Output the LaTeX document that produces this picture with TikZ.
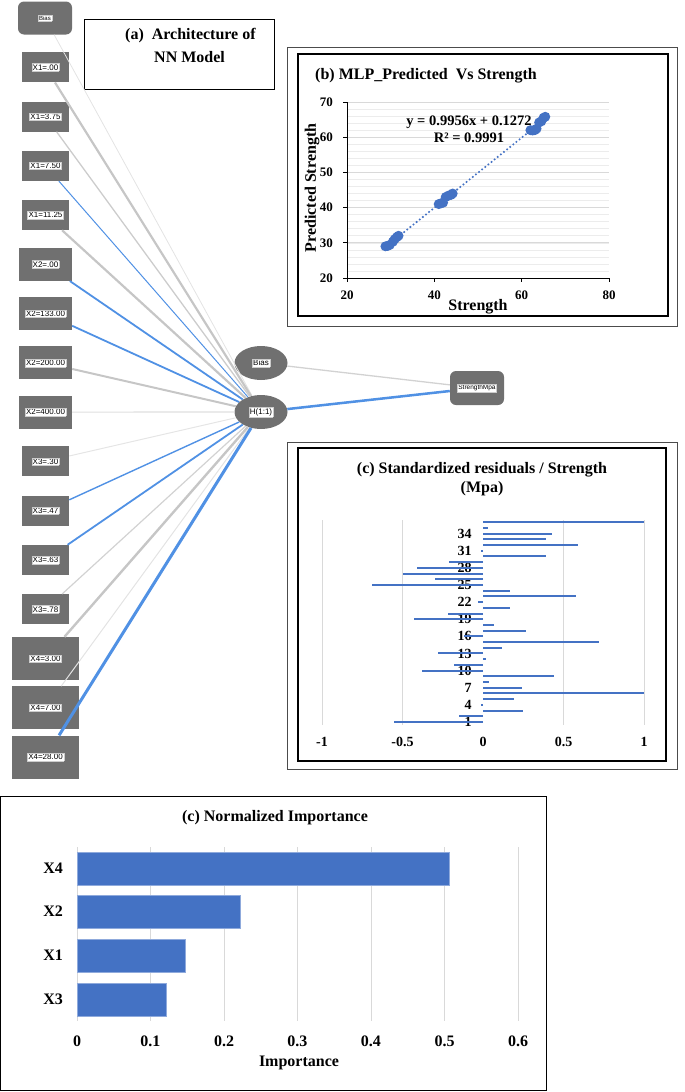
\documentclass[tikz,border=0pt]{standalone}
\usepackage{fontspec}
\setmainfont{Liberation Serif}
\newfontfamily\nnfont{Liberation Sans}
\usetikzlibrary{shapes.geometric}

\definecolor{nngray}{RGB}{112,112,112}
\definecolor{nnblue}{RGB}{80,145,228}
\definecolor{chartblue}{RGB}{68,114,196}
\definecolor{gridgray}{RGB}{217,217,217}
\definecolor{minorgray}{RGB}{236,236,236}

\newcommand{\nnlab}[2][8]{{\setlength{\fboxsep}{0.8pt}\setlength{\fboxrule}{0.3pt}\fcolorbox{gray!40}{white}{\nnfont\fontsize{#1}{#1}\selectfont #2}}}

\tikzset{
  inbox/.style={rectangle, fill=nngray, inner sep=0pt, minimum width=47pt, minimum height=30pt},
  x2box/.style={inbox, minimum width=53pt, minimum height=33pt},
  x4box/.style={inbox, minimum width=67pt, minimum height=43pt},
  biasbox/.style={inbox, rounded corners=6pt, minimum width=54pt, minimum height=33pt},
  hidnode/.style={ellipse, fill=nngray, inner sep=0pt, minimum width=53pt, minimum height=34pt},
  outbox/.style={biasbox, minimum width=54pt, minimum height=34pt},
  ttl/.style={font=\bfseries\fontsize{16}{18}\selectfont, inner sep=0pt},
  ticklab/.style={font=\bfseries\fontsize{14}{14}\selectfont, inner sep=0pt},
  smalllab/.style={font=\bfseries\fontsize{13}{13}\selectfont, inner sep=0pt},
  panelout/.style={draw=black!70, line width=1pt},
  panelin/.style={draw=black, line width=1.2pt},
  gridmaj/.style={draw=gridgray, line width=0.8pt},
  gridmin/.style={draw=minorgray, line width=0.6pt},
  resbar/.style={draw=chartblue, line width=2pt},
  impbar/.style={fill=chartblue, draw=chartblue!60!white, line width=0.6pt}
}

\begin{document}
\begin{tikzpicture}[x=1pt, y=-1pt]
		%%%%% START %%%%%
		\useasboundingbox (0,0) rectangle (685,1092);
		
		% (a) network
		\node[draw, line width=0.8pt, minimum width=190pt, minimum height=70pt, inner sep=0pt] (abox) at (179,54) {};
		\node[ttl, anchor=west] (atitle) at (125,36) {(a)\ \ Architecture of};
		\node[ttl, anchor=west] (atitleb) at (154,57) {NN Model};
		
		\node[biasbox] (inbias) at (45,18) {\nnlab[6]{Bias}};
		\foreach \nm/\lab/\sty [count=\i] in {x1a/X1=.00/inbox, x1b/X1=3.75/inbox, x1c/X1=7.50/inbox, x1d/X1=11.25/inbox,
			x2a/X2=.00/x2box, x2b/X2=133.00/x2box, x2c/X2=200.00/x2box, x2d/X2=400.00/x2box,
			x3a/X3=.30/inbox, x3b/X3=.47/inbox, x3c/X3=.63/inbox, x3d/X3=.78/inbox,
			x4a/X4=3.00/x4box, x4b/X4=7.00/x4box, x4c/X4=28.00/x4box}
			\node[\sty] (\nm) at (45.5,18+49.27*\i) {\nnlab{\lab}};
		
		\node[hidnode] (hbias) at (261,363) {\nnlab{Bias}};
		\node[hidnode] (hid) at (261,412) {\nnlab{H(1:1)}};
		\node[outbox] (out) at (477,388) {\nnlab[6.5]{StrengthMpa}};
		
		\foreach \nm/\col/\lw in {inbias/gray!22/0.8, x1a/gray!45/2.2, x1b/gray!40/1.3, x1c/nnblue/1.0, x1d/gray!45/2.2,
			x2a/nnblue/1.8, x2b/nnblue/1.8, x2c/gray!45/2.0, x2d/gray!25/1.2,
			x3a/gray!20/1.0, x3b/nnblue/1.4, x3c/nnblue/1.8, x3d/gray!35/1.2,
			x4a/gray!45/2.4, x4b/gray!22/1.0, x4c/nnblue/3.0}
			\draw[draw=\col, line width=\lw pt] (\nm) -- (hid);
		
		\draw[draw=gray!35, line width=1.3pt] (hbias) -- (out);
		\draw[draw=nnblue, line width=2.5pt] (hid) -- (out);
		
		% (b) predicted vs strength
		\draw[panelout] (287,47) rectangle (677,326);
		\draw[panelin] (298,54) rectangle (668,316);
		\node[ttl] (btitle) at (426,76) {(b) MLP\_Predicted\ \ Vs Strength};
		
		\begin{scope}[shift={(347pt,-278pt)}, x=4.367pt, y=3.52pt]
			\foreach \v in {2,4,...,48}
				\draw[gridmin] (0,\v) -- (60,\v);
			\foreach \v in {10,20,...,50}
				\draw[gridmaj] (0,\v) -- (60,\v);
			\draw[black, line width=0.8pt] (0,50) -- (0,0) -- (60,0);
			\foreach \v in {0,10,...,50}
				\draw[black, line width=0.8pt] (0,\v) -- ++(-4pt,0);
			\foreach \u in {0,20,40,60}
				\draw[black, line width=0.8pt] (\u,0) -- ++(0,-4pt);
			\foreach \v/\lab in {0/20,10/30,20/40,30/50,40/60,50/70}
				\node[smalllab, anchor=east] (yl\lab) at (-3.2,\v) {\lab};
			\foreach \u/\lab in {0/20,20/40,40/60,60/80}
				\node[smalllab] (xl\lab) at (\u,-4.8) {\lab};
			\draw[chartblue, line width=2.3pt, line cap=round, dash pattern=on 0pt off 4pt]
				(8.8,{0.9956*28.8+0.1272-20}) -- (45.4,{0.9956*65.4+0.1272-20});
			\foreach \px/\py in {28.8/29.0, 29.3/29.1, 29.8/29.4, 30.5/30.3, 30.9/31.0, 31.4/31.6, 31.8/32.0,
				41.0/41.0, 41.5/41.2, 42.0/41.4, 42.6/43.0, 43.2/43.4, 43.8/43.6, 44.2/44.0,
				62.0/62.0, 62.5/61.9, 63.0/62.0, 63.4/62.4, 64.0/64.2, 64.5/64.5, 65.0/65.5, 65.4/65.8}
				\fill[chartblue] (\px-20,\py-20) circle[radius=5pt];
		\end{scope}
		
		\node[ttl] (eqn) at (469,122) {\fontsize{14.5}{15}\selectfont y = 0.9956x + 0.1272};
		\node[ttl] (rsq) at (469,138) {\fontsize{14.5}{15}\selectfont R² = 0.9991};
		\node[ttl] (bxlab) at (478,307) {Strength};
		\node[ttl, rotate=90] (bylab) at (312,188) {Predicted Strength};
		
		% (c) residuals
		\draw[panelout] (287,442) rectangle (677,769);
		\draw[panelin] (298,448) rectangle (666,761);
		\node[ttl] (ctitle) at (482,470) {(c) Standardized residuals / Strength};
		\node[ttl] (ctitleb) at (482,489) {(Mpa)};
		
		\begin{scope}[shift={(483pt,-722pt)}, x=161pt, y=5.71pt]
			\foreach \u in {-1,-0.5,0.5,1}
				\draw[gridmaj] (\u,-0.5) -- (\u,35.4);
			\foreach \c in {1,4,...,34}
				\node[ticklab, anchor=east] (rc\c) at (-0.07,\c-1) {\c};
			\foreach \v [count=\k from 0] in {-0.55,-0.15,0.25,-0.01,0.19,1.0,0.24,0.04,0.44,-0.38,
				-0.18,0.02,-0.28,0.12,0.72,-0.12,0.27,0.07,-0.43,-0.22,
				0.17,-0.03,0.58,0.17,-0.69,-0.30,-0.50,-0.41,-0.21,0.39,
				-0.01,0.59,0.39,0.43,0.03,1.0}
				\draw[resbar] (0,\k) -- (\v,\k);
			\foreach \u/\lab [count=\j] in {-1/-1,-0.5/-0.5,0/0,0.5/0.5,1/1}
				\node[ticklab] (rt\j) at (\u,-3.5) {\lab};
		\end{scope}
		
		% (c) importance
		\draw[black, line width=1pt] (0.5,796) rectangle (546,1090);
		\node[ttl] (dtitle) at (275,818) {(c) Normalized Importance};
		
		\begin{scope}[shift={(77pt,0pt)}, x=735pt]
			\foreach \u in {0,...,6}
				\draw[gridmaj] (\u/10,847) -- (\u/10,1021);
			\foreach \nm/\v/\yt in {X4/0.507/852, X2/0.222/895, X1/0.147/939, X3/0.122/983} {
				\draw[impbar] (0,\yt) rectangle (\v,\yt+33);
				\node[ttl, anchor=east] (lab\nm) at (-0.019,\yt+16.5) {\nm};
			}
			\foreach \u/\lab in {0/0,1/0.1,2/0.2,3/0.3,4/0.4,5/0.5,6/0.6}
				\node[ttl] (it\u) at (\u/10,1041) {\lab};
		\end{scope}
		\node[ttl] (implab) at (299,1063) {Importance};
		
		%%%%% END %%%%%
\end{tikzpicture}
\end{document}
